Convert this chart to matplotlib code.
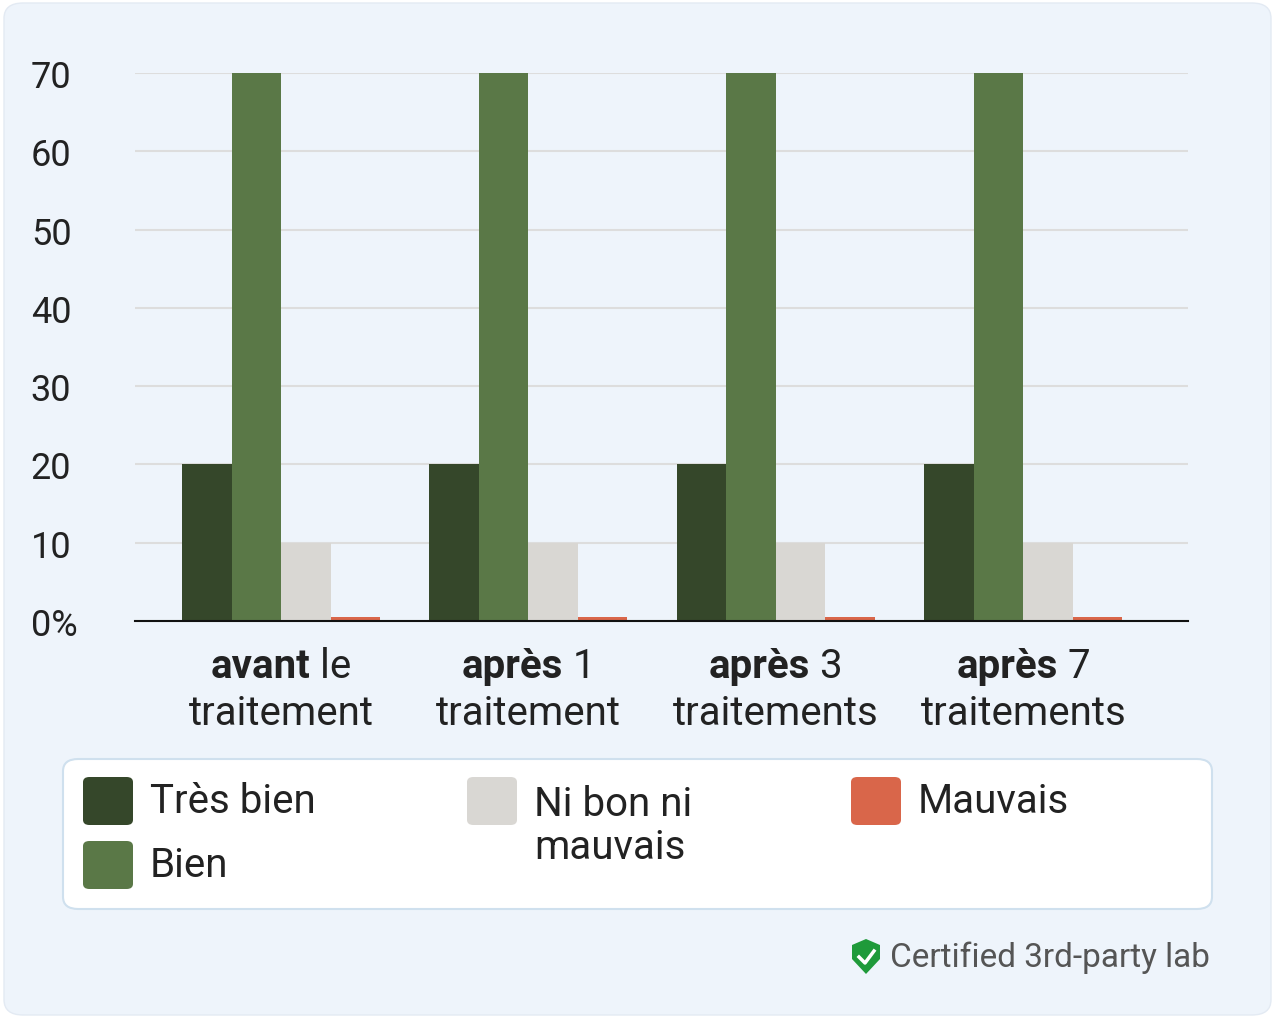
import matplotlib
matplotlib.use("Agg")
import matplotlib.pyplot as plt
from matplotlib.patches import FancyBboxPatch, Polygon
import numpy as np

plt.rcParams['font.family'] = ['Roboto', 'DejaVu Sans']

cat_bold = ["avant", "après", "après", "après"]
cat_rest = [" le", " 1", " 3", " 7"]
cat_line2 = ["traitement", "traitement", "traitements", "traitements"]
series = ["Très bien", "Bien", "Ni bon ni\nmauvais", "Mauvais"]
values = [
    [20, 20, 20, 20],
    [70, 70, 70, 70],
    [10, 10, 10, 10],
    [0.5, 0.5, 0.5, 0.5],
]
colors = ["#35472a", "#5a7847", "#d9d7d3", "#d9664a"]
yticks = [0, 10, 20, 30, 40, 50, 60, 70]
ylabels = ["0%", "10", "20", "30", "40", "50", "60", "70"]

W, H = 1275, 1020
FS = 29
fig = plt.figure(figsize=(W/100, H/100), dpi=100)
fig.patch.set_facecolor("white")
bg = FancyBboxPatch((4/W, 4/H), 1-8/W, 1-8/H, boxstyle="round,pad=0,rounding_size=0.015",
                    transform=fig.transFigure, facecolor="#eef4fb", edgecolor="#e3eaf3", lw=1, zorder=-10)
fig.add_artist(bg)

ax = fig.add_axes([135/W, 1-622/H, (1188-135)/W, (622-74)/H])
ax.set_facecolor("none")
x = np.arange(4)
bw = 0.2
for i, (vals, c) in enumerate(zip(values, colors)):
    ax.bar(x + (i-1.5)*bw, vals, bw, color=c, zorder=3)
ax.set_xlim(-0.59, 3.665)
ax.set_ylim(0, 70)
ax.set_yticks(yticks)
ax.set_yticklabels(ylabels, fontsize=26, color="#222222")
ax.tick_params(axis='y', length=0, pad=75)
ax.tick_params(axis='x', length=0)
ax.set_xticks([])
ax.grid(axis='y', color="#dddddd", lw=1.5, zorder=0)
for s in ["top", "right", "left"]:
    ax.spines[s].set_visible(False)
ax.spines["bottom"].set_color("#111111")
ax.spines["bottom"].set_linewidth(1.5)
ax.spines["bottom"].set_zorder(4)
for lbl in ax.get_yticklabels():
    lbl.set_horizontalalignment("left")

fig.canvas.draw()
r = fig.canvas.get_renderer()
for i in range(4):
    cx = ax.transData.transform((x[i], 0))[0]
    t1 = fig.text(0, 0, cat_bold[i], fontsize=FS, fontweight="bold", color="#222222")
    t2 = fig.text(0, 0, cat_rest[i], fontsize=FS, color="#222222")
    w1 = t1.get_window_extent(r).width
    w2 = t2.get_window_extent(r).width
    left = cx - (w1 + w2)/2
    y1 = 1 - 667/H
    t1.set_position((left/W, y1)); t1.set_va("center")
    t2.set_position(((left+w1)/W, y1)); t2.set_va("center")
    fig.text(cx/W, 1-714/H, cat_line2[i], fontsize=FS, color="#222222", ha="center", va="center")

# legend
fig.add_artist(FancyBboxPatch((63/W, 1-910/H), (1212-63)/W, 150/H, boxstyle="round,pad=0,rounding_size=0.012",
                              transform=fig.transFigure, facecolor="white", edgecolor="#cfe0ee", lw=1.5))
pos = [(83, 802), (83, 866), (467, 802), (851, 802)]
for (px, py), lab, c in zip(pos, series, colors):
    fig.add_artist(FancyBboxPatch((px/W, 1-(py+24)/H), 50/W, 48/H, boxstyle="round,pad=0,rounding_size=0.005",
                                  transform=fig.transFigure, facecolor=c, edgecolor="none"))
    if "\n" in lab:
        fig.text((px+67)/W, 1-826/H, lab, fontsize=FS, color="#222222", va="center", linespacing=1.15)
    else:
        fig.text((px+67)/W, 1-py/H, lab, fontsize=FS, color="#222222", va="center")

# footer
sx, sy = 866, 958
pts = [(sx-14, sy-12), (sx, sy-18), (sx+14, sy-12), (sx+14, sy+2), (sx, sy+17), (sx-14, sy+2)]
shield = Polygon([(a/W, 1-b/H) for a, b in pts], closed=True, transform=fig.transFigure,
                 facecolor="#1f9a3a", edgecolor="none")
fig.add_artist(shield)
fig.add_artist(plt.Line2D([(sx-7)/W, (sx-1)/W, (sx+8)/W], [1-(sy)/H, 1-(sy+6)/H, 1-(sy-6)/H],
                          transform=fig.transFigure, color="white", lw=2.5))
fig.text(1210/W, 1-958/H, "Certified 3rd-party lab", fontsize=24, color="#555555", ha="right", va="center")

fig.savefig("out.png", dpi=100)
